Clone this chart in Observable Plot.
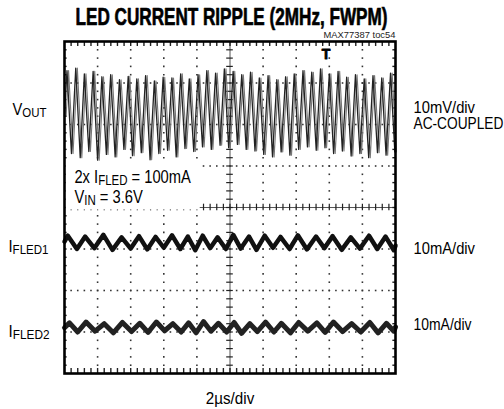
<!DOCTYPE html>
<html><head><meta charset="utf-8">
<script src="https://cdn.jsdelivr.net/npm/d3@7"></script>
<script src="https://cdn.jsdelivr.net/npm/@observablehq/plot@0.6"></script>
<style>
body{margin:0;background:#fff;}
#chart svg{display:block;}
</style></head><body><div id="chart"></div>
<script>
// time in µs (2µs/div, 10 div), level in screen divisions (-4..4)
const voutTime = [0.00, 0.15,0.42, 0.68,0.95, 1.20,1.47, 1.73,2.00, 2.26,2.53, 2.79,3.06, 3.32,3.59, 3.85,4.11, 4.37,4.64, 4.90,5.17, 5.43,5.70, 5.96,6.23, 6.49,6.75, 7.02,7.28, 7.54,7.81, 8.07,8.34, 8.60,8.87, 9.13,9.40, 9.66,9.92, 10.19,10.45, 10.71,10.98, 11.24,11.51, 11.77,12.04, 12.30,12.57, 12.83,13.09, 13.36,13.62, 13.88,14.15, 14.41,14.68, 14.94,15.21, 15.47,15.74, 16.00,16.26, 16.53,16.79, 17.05,17.32, 17.58,17.85, 18.11,18.38, 18.64,18.91, 19.17,19.43, 19.70,19.96];
const voutLevel = [2.2, 3.30,1.30, 3.36,1.20, 3.22,1.35, 3.28,1.14, 3.15,1.28, 3.20,1.22, 3.08,1.40, 3.16,1.25, 3.10,1.32, 3.18,1.15, 3.05,1.30, 3.14,1.38, 3.12,1.22, 3.22,1.42, 3.10,1.35, 3.20,1.46, 3.30,1.40, 3.24,1.50, 3.34,1.44, 3.28,1.52, 3.20,1.40, 3.26,1.36, 3.12,1.28, 3.18,1.22, 3.08,1.34, 3.15,1.26, 3.22,1.40, 3.30,1.46, 3.26,1.38, 3.34,1.44, 3.22,1.30, 3.28,1.36, 3.14,1.24, 3.20,1.30, 3.10,1.20, 3.18,1.32, 3.12,1.26, 3.24,1.34];
const fled1Time = [0, 0.2,0.75, 1.25,1.8, 2.35,2.9, 3.45,4.0, 4.5,5.0, 5.5,6.0, 6.5,7.0, 7.45,7.9, 8.35,8.8, 9.25,9.75, 10.2,10.65, 11.15,11.6, 12.1,12.6, 13.05,13.6, 14.1,14.65, 15.2,15.7, 16.2,16.75, 17.3,17.85, 18.4,18.9, 19.4,19.9, 20];
const fled1Level = [-0.82, -0.68,-1.00, -0.70,-0.98, -0.66,-1.02, -0.72,-0.99, -0.69,-1.01, -0.71,-0.97, -0.67,-1.00, -0.70,-1.03, -0.68,-0.98, -0.72,-1.00, -0.66,-0.99, -0.70,-1.02, -0.68,-0.97, -0.71,-1.00, -0.67,-1.01, -0.70,-0.98, -0.69,-1.02, -0.72,-0.99, -0.68,-1.00, -0.70,-1.03, -0.92];
const fled2Time = [0, 0.3,0.8, 1.3,1.85, 2.4,2.95, 3.5,4.05, 4.55,5.05, 5.55,6.05, 6.55,7.05, 7.5,7.95, 8.4,8.85, 9.3,9.8, 10.25,10.7, 11.2,11.65, 12.15,12.65, 13.1,13.65, 14.15,14.7, 15.25,15.75, 16.25,16.8, 17.35,17.9, 18.45,18.95, 19.45,19.9, 20];
const fled2Level = [-2.90, -2.78,-3.00, -2.76,-2.98, -2.80,-3.02, -2.77,-2.99, -2.79,-3.01, -2.76,-2.97, -2.80,-3.00, -2.78,-3.02, -2.75,-2.98, -2.79,-3.00, -2.77,-3.03, -2.80,-2.99, -2.76,-3.00, -2.79,-3.02, -2.77,-2.98, -2.78,-3.01, -2.76,-2.99, -2.80,-3.00, -2.77,-3.02, -2.79,-2.98, -2.88];

// labels
const titleText = "LED CURRENT RIPPLE (2MHz, FWPM)";
const tocText = "MAX77387 toc54";
const voutLabel = "V{OUT}";
const voutLabelLevel = 2.22;
const fledLabels = ["I{FLED1}", "I{FLED2}"];
const fledLabelLevels = [-1.08, -3.11];
const rightLabels = ["10mV/div", "AC-COUPLED", "10mA/div", "10mA/div "];
const rightLevels = [2.27, 1.90, -1.11, -2.96];
const noteLabels = ["2x I{FLED} = 100mA", "V{IN} = 3.6V"];
const noteLevels = [0.60, 0.10];
const xLabel = "2µs/div";

// target rendered widths (condensed face emulation)
const fitWidths = new Map([
  [titleText, [312, "middle"]], [tocText, [72, "end"]],
  [voutLabel, [34, "start"]], ["I{FLED1}", [40, "start"]], ["I{FLED2}", [41, "start"]],
  ["10mV/div", [62, "start"]], ["AC-COUPLED", [90, "start"]], ["10mA/div", [62, "start"]], ["10mA/div ", [62, "start"]],
  ["2x I{FLED} = 100mA", [117, "start"]], ["V{IN} = 3.6V", [69, "start"]], [xLabel, [49, "middle"]]
]);

const FONT = "'Liberation Sans', Arial, Helvetica, sans-serif";
const vout = voutTime.map((t,i)=>({t, v: voutLevel[i]}));
const f1 = fled1Time.map((t,i)=>({t, v: fled1Level[i]}));
const f2 = fled2Time.map((t,i)=>({t, v: fled2Level[i]}));

// graticule geometry (layout only)
const vLines = [2,4,6,8,12,14,16,18];
const hLines = [-3,-2,-1,1,2,3];
const yMinor = d3.range(-3.8, 3.81, 0.2);
const xMinor = d3.range(0.4, 19.61, 0.4);
const vDots = vLines.flatMap(x => yMinor.map(y => ({x, y})));
const hDots = hLines.flatMap(y => xMinor.map(x => ({x, y})));

const plot = Plot.plot({
  width: 504, height: 409,
  marginLeft: 64, marginRight: 109, marginTop: 41, marginBottom: 36,
  x: {domain: [0, 20], axis: null},
  y: {domain: [-4, 4], axis: null},
  style: {fontFamily: FONT, background: "white", color: "black", overflow: "visible"},
  marks: [
    Plot.dot(vDots, {x: "x", y: "y", symbol: "square", r: 0.9, fill: "#333", stroke: null}),
    Plot.dot(hDots, {x: "x", y: "y", symbol: "square", r: 0.9, fill: "#333", stroke: null}),
    // center axes
    Plot.ruleX([10], {stroke: "#555", strokeWidth: 1}),
    Plot.ruleY([0], {x1: 0, x2: 20, stroke: "#555", strokeWidth: 1}),
    Plot.ruleY(yMinor, {y: d => d, x1: 9.8, x2: 10.2, stroke: "#222", strokeWidth: 1.2}),
    Plot.ruleX(xMinor, {x: d => d, y1: -0.08, y2: 0.08, stroke: "#222", strokeWidth: 1.2}),
    // edge ticks
    Plot.ruleX(xMinor, {x: d => d, y1: 4, y2: 3.88, stroke: "#222", strokeWidth: 1.4}),
    Plot.ruleX(xMinor, {x: d => d, y1: -4, y2: -3.88, stroke: "#222", strokeWidth: 1.4}),
    Plot.ruleY(yMinor, {y: d => d, x1: 0, x2: 0.16, stroke: "#222", strokeWidth: 1.4}),
    Plot.ruleY(yMinor, {y: d => d, x1: 20, x2: 19.84, stroke: "#222", strokeWidth: 1.4}),
    // note box
    Plot.rect([0], {x1: 0.1, x2: 8.2, y1: -0.06, y2: 1.07, fill: "white"}),
    // traces
    Plot.line(vout, {x: "t", y: "v", stroke: "#777", strokeWidth: 1.1, dx: 1.6}),
    Plot.line(vout, {x: "t", y: "v", stroke: "#222", strokeWidth: 1.3}),
    Plot.line(f1, {x: "t", y: "v", stroke: "#111", strokeWidth: 4.5, strokeLinejoin: "round"}),
    Plot.line(f2, {x: "t", y: "v", stroke: "#222", strokeWidth: 5, strokeLinejoin: "round"}),
    Plot.frame({stroke: "black", strokeWidth: 2.6}),
    // trigger marker
    Plot.text(["T"], {x: 15.8, y: 3.68, fontSize: 14, fontWeight: "bold", fill: "black", stroke: "black", strokeWidth: 0.8}),
    // texts
    Plot.text([titleText], {frameAnchor: "top", dx: 1.5, dy: -16.5, lineAnchor: "bottom", fontSize: 24.5, fontWeight: "bold", fill: "black", stroke: "black", strokeWidth: 0.7}),
    Plot.text([tocText], {frameAnchor: "top-right", dx: 0, dy: -4, lineAnchor: "bottom", textAnchor: "end", fontSize: 9, fill: "#222"}),
    Plot.text([voutLabel], {frameAnchor: "left", y: voutLabelLevel, dx: -52, textAnchor: "start", lineAnchor: "bottom", fontSize: 17, fill: "black"}),
    Plot.text(fledLabels, {frameAnchor: "left", y: (d,i) => fledLabelLevels[i], dx: -56, textAnchor: "start", lineAnchor: "bottom", fontSize: 17, fill: "black"}),
    Plot.text(rightLabels, {frameAnchor: "right", y: (d,i) => rightLevels[i], dx: 18, textAnchor: "start", lineAnchor: "bottom", fontSize: 17, fill: "black"}),
    Plot.text(noteLabels, {x: 0.6, y: (d,i) => noteLevels[i], textAnchor: "start", lineAnchor: "bottom", fontSize: 18.5, fill: "black"}),
    Plot.text([xLabel], {frameAnchor: "bottom", dy: 30, lineAnchor: "bottom", fontSize: 17, fill: "black"})
  ]
});

const NS = "http://www.w3.org/2000/svg";
// subscripts
plot.querySelectorAll("text").forEach(t => {
  const s = t.textContent;
  t.dataset.key = s;
  if (!s.includes("{")) return;
  t.textContent = "";
  const parts = s.split(/(\{[^}]*\})/).filter(p => p);
  let shifted = false;
  parts.forEach(p => {
    const ts = document.createElementNS(NS, "tspan");
    if (p.startsWith("{")) {
      ts.textContent = p.slice(1, -1);
      ts.setAttribute("font-size", "0.78em");
      ts.setAttribute("dy", "2");
      shifted = true;
    } else {
      ts.textContent = p;
      if (shifted) { ts.setAttribute("dy", "-2"); shifted = false; }
    }
    t.appendChild(ts);
  });
});
document.getElementById("chart").appendChild(plot);
// condense texts horizontally to the reference widths
plot.querySelectorAll("text").forEach(t => {
  const f = fitWidths.get(t.dataset.key);
  if (!f) return;
  const r = t.getBoundingClientRect();
  if (!r.width) return;
  const sx = f[0] / r.width;
  const axScreen = f[1] === "start" ? r.left : f[1] === "end" ? r.right : (r.left + r.right) / 2;
  const parent = t.parentNode;
  const m = parent.getScreenCTM().inverse();
  const p = new DOMPoint(axScreen, r.top).matrixTransform(m);
  const g = document.createElementNS(NS, "g");
  g.setAttribute("transform", `translate(${p.x},0) scale(${sx},1) translate(${-p.x},0)`);
  parent.insertBefore(g, t);
  g.appendChild(t);
});
</script></body></html>
